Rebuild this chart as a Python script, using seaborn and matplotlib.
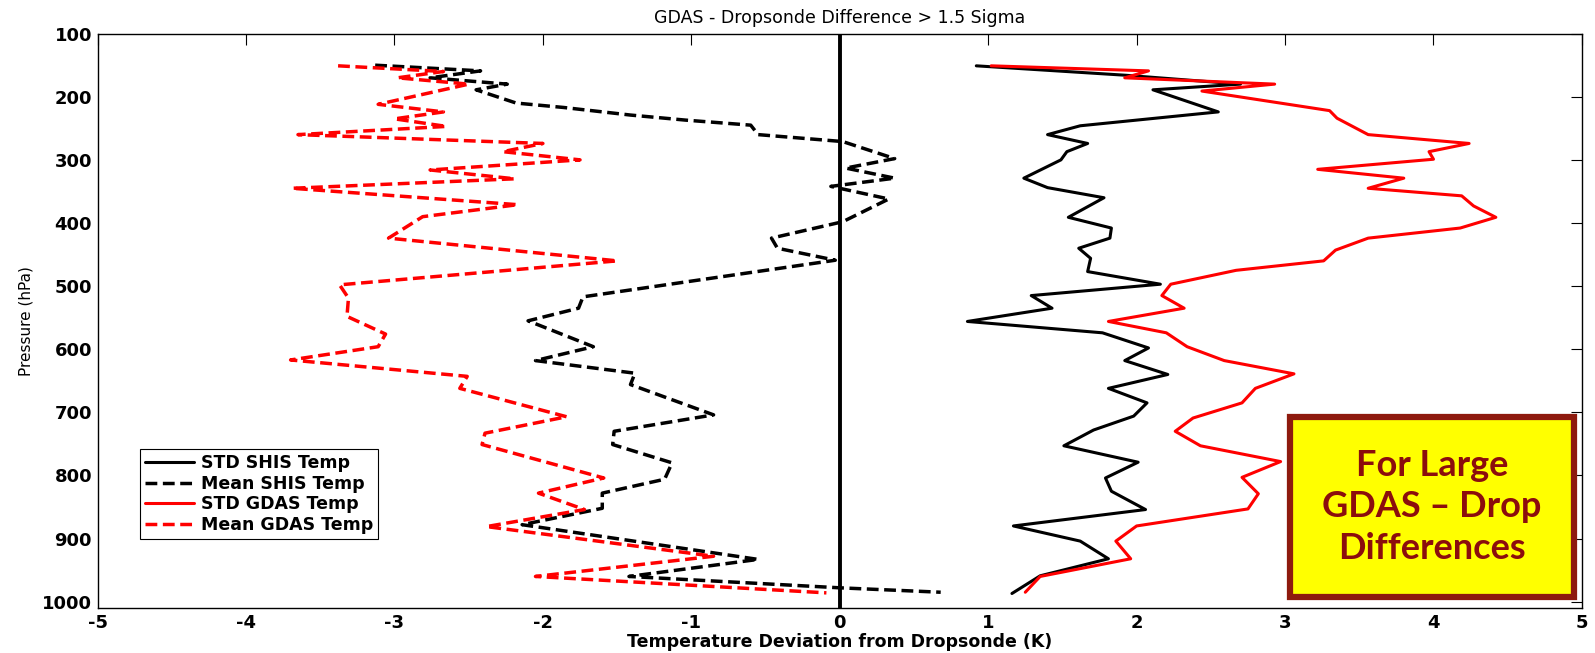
import numpy as np
import pandas as pd
import matplotlib
matplotlib.use("Agg")
import matplotlib.pyplot as plt
from matplotlib.patches import Rectangle
import seaborn as sns

# Data

# STD SHIS Temp (black solid)
shis_std = [0.92, 1.93, 2.70, 2.11, 2.55, 1.62, 1.40, 1.67, 1.53, 1.49, 1.24, 1.40, 1.78,
            1.54, 1.83, 1.82, 1.61, 1.69, 1.67, 2.16, 1.29, 1.43, 0.86, 1.77, 2.08, 1.92,
            2.21, 1.81, 2.07, 1.98, 1.71, 1.51, 2.01, 1.79, 1.83, 2.06, 1.17, 1.62, 1.81,
            1.35, 1.16]
shis_std_p = [151, 166, 180, 189, 224, 246, 260, 274, 287, 300, 329, 344, 360,
              391, 408, 424, 440, 456, 477, 497, 515, 535, 556, 574, 598, 618,
              640, 662, 685, 706, 728, 753, 779, 804, 825, 854, 880, 904, 932,
              959, 987]

# Mean SHIS Temp (black dashed)
shis_mean = [-3.13, -2.42, -2.76, -2.24, -2.45, -2.18, -1.86, -1.41, -1.04, -0.60, -0.55,
             0.02, 0.37, 0.04, 0.37, -0.06, 0.33, 0.02, -0.46, -0.42, -0.03, -1.73,
             -1.76, -2.10, -1.66, -2.05, -1.38, -1.41, -0.85, -1.52, -1.53, -1.13,
             -1.18, -1.60, -1.60, -2.14, -0.55, -1.42, 0.00, 0.68]
shis_mean_p = [150, 159, 170, 180, 189, 210, 217, 229, 237, 245, 260,
               271, 298, 313, 329, 342, 362, 398, 424, 440, 459, 517,
               535, 555, 596, 618, 638, 656, 704, 730, 751, 780,
               806, 828, 852, 878, 933, 960, 978, 985]

# STD GDAS Temp (red solid)
gdas_std = [1.02, 2.08, 1.92, 2.93, 2.44, 3.30, 3.35, 3.56, 4.24, 3.97, 4.00, 3.22, 3.80,
            3.56, 4.19, 4.27, 4.42, 4.18, 3.56, 3.34, 3.26, 2.67, 2.23, 2.17, 2.32, 1.81,
            2.20, 2.34, 2.59, 3.06, 2.80, 2.71, 2.38, 2.26, 2.43, 2.97, 2.71, 2.82, 2.75,
            2.00, 1.86, 1.96, 1.35, 1.25]
gdas_std_p = [151, 159, 170, 180, 191, 222, 234, 260, 274, 287, 299, 315, 329,
              345, 357, 373, 391, 408, 424, 443, 460, 475, 497, 515, 535, 556,
              574, 596, 618, 639, 662, 685, 709, 730, 753, 778, 803, 829, 853,
              880, 904, 932, 960, 985]

# Mean GDAS Temp (red dashed)
gdas_mean = [-3.38, -2.67, -2.98, -2.50, -3.11, -2.67, -3.00, -2.65, -3.65, -2.00, -2.27,
             -1.75, -2.76, -2.19, -3.69, -2.17, -2.81, -3.04, -1.50, -3.37, -3.31, -3.32,
             -3.06, -3.11, -3.70, -2.51, -2.56, -1.84, -2.39, -2.41, -1.59, -2.03, -1.72,
             -2.38, -0.85, -2.05, -0.09]
gdas_mean_p = [151, 160, 170, 180, 212, 224, 235, 247, 260, 274, 287,
               300, 316, 330, 345, 371, 390, 424, 460, 498, 519, 548,
               576, 596, 617, 643, 662, 707, 733, 751, 804, 828, 854,
               881, 928, 960, 986]

x_ticks = list(range(-5, 6))
y_ticks = list(range(100, 1001, 100))

sns.set_style("white")
plt.rcParams["font.family"] = ["DejaVu Sans"]
plt.rcParams["axes.unicode_minus"] = False
plt.rcParams["text.color"] = "black"
plt.rcParams["axes.labelcolor"] = "black"
plt.rcParams["xtick.color"] = "black"
plt.rcParams["ytick.color"] = "black"

fig = plt.figure(figsize=(15.95, 6.53), dpi=100)
ax = fig.add_axes([0.0612, 0.0689, 0.9306, 0.8796])

dash = (0, (3.4, 1.6))

sns.lineplot(x=shis_std, y=shis_std_p, sort=False, estimator=None, color="black",
             linewidth=2.2, label="STD SHIS Temp", ax=ax)
sns.lineplot(x=shis_mean, y=shis_mean_p, sort=False, estimator=None, color="black",
             linewidth=2.5, linestyle=dash, label="Mean SHIS Temp", ax=ax)
sns.lineplot(x=gdas_std, y=gdas_std_p, sort=False, estimator=None, color="#ff0000",
             linewidth=2.2, label="STD GDAS Temp", ax=ax)
sns.lineplot(x=gdas_mean, y=gdas_mean_p, sort=False, estimator=None, color="#ff0000",
             linewidth=2.5, linestyle=dash, label="Mean GDAS Temp", ax=ax)

ax.axvline(0, color="black", linewidth=2.8, zorder=1)

ax.set_xlim(-5, 5)
ax.set_ylim(1010, 100)
ax.set_xticks(x_ticks)
ax.set_yticks(y_ticks)
ax.tick_params(direction="in", top=True, right=True, length=8, width=0.8,
               labelsize=13, pad=4, colors="black")
for lab in ax.get_xticklabels() + ax.get_yticklabels():
    lab.set_fontweight("bold")
for s in ax.spines.values():
    s.set_linewidth(1.0)
    s.set_color("black")

ax.set_title("GDAS - Dropsonde Difference > 1.5 Sigma", fontsize=12.5, pad=8)
ax.set_xlabel("Temperature Deviation from Dropsonde (K)", fontsize=12.5,
              fontweight="bold", labelpad=1)
ax.set_ylabel("Pressure (hPa)", fontsize=11, labelpad=6)

leg = ax.legend(loc="upper left", bbox_to_anchor=(0.0286, 0.277),
                prop={"weight": "bold", "size": 12.5}, frameon=True, fancybox=False,
                edgecolor="black", framealpha=1, borderpad=0.3, labelspacing=0.15,
                handlelength=2.8, handletextpad=0.4, borderaxespad=0)
leg.get_frame().set_linewidth(0.8)

# annotation box
ax.add_patch(Rectangle((0.803, 0.019), 0.192, 0.314, transform=ax.transAxes,
                       facecolor="#ffff00", edgecolor="#8e1a0e", linewidth=4.5,
                       zorder=5))
ax.text(0.899, 0.176, "For Large\nGDAS \u2013 Drop\nDifferences", transform=ax.transAxes,
        ha="center", va="center", fontsize=26, fontweight="bold", family=["Lato", "DejaVu Sans"],
        color="#8b0d0d", linespacing=1.3, zorder=6)

fig.savefig("out.png", dpi=100)
